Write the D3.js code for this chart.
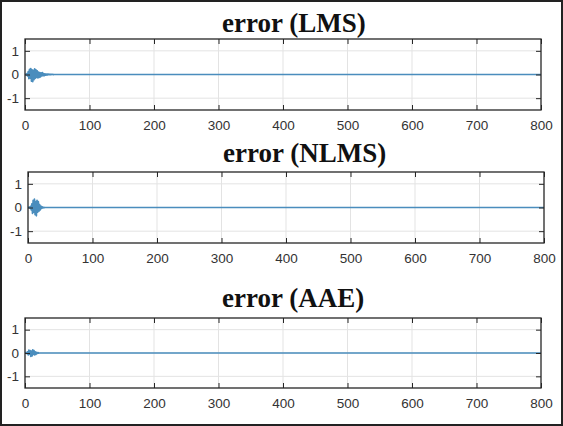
<!DOCTYPE html>
<html lang="en">
<head>
  <meta charset="UTF-8">
  <title>error plots</title>
  <style>
    body { margin: 0; background: #fff; }
    .tick text { font-family: "Liberation Sans", Arial, sans-serif; font-size: 13.5px; fill: #333; }
    .tick line { stroke: #262626; stroke-width: 1; }
    .domain { display: none; }
  </style>
</head>
<body>
  <svg id="svg" width="563" height="426"></svg>

  <script src="https://cdn.jsdelivr.net/npm/d3@7"></script>
  <script>
    // data
    const titles = ['error (LMS)', 'error (NLMS)', 'error (AAE)'];
    const xTicks = [0, 100, 200, 300, 400, 500, 600, 700, 800];
    const yTicks = [-1, 0, 1];
    const nSamples = 800;

    const lmsErr = [0, 0.01, -0.02, 0.04, -0.06, 0.12, -0.18, 0.22, -0.15, 0.25,
      -0.28, 0.2, -0.3, 0.18, -0.22, 0.24, -0.16, 0.2, -0.12, 0.15,
      -0.14, 0.1, -0.12, 0.08, -0.1, 0.07, -0.06, 0.08, -0.05, 0.04,
      -0.05, 0.03, -0.03, 0.02, -0.03, 0.02, -0.01, 0.02, -0.01, 0.01,
      -0.01, 0.01, 0, 0.005, -0.005, 0];
    const nlmsErr = [0, 0, 0.02, -0.03, 0.05, -0.1, 0.15, -0.25, 0.3, -0.2,
      0.35, -0.3, 0.25, -0.35, 0.3, -0.2, 0.25, -0.15, 0.12, -0.1,
      0.06, -0.04, 0.03, -0.02, 0.01, -0.01, 0];
    const aaeErr = [0, 0, 0.02, -0.03, 0.05, -0.08, 0.12, -0.05, 0.1, -0.15,
      0.08, -0.12, 0.14, -0.06, 0.1, -0.08, 0.05, -0.06, 0.03, -0.02,
      0.02, -0.01, 0];
    const series = [lmsErr, nlmsErr, aaeErr];

    // layout of the three axes
    const panels = [
      { left: 25, right: 541, top: 39, bottom: 110, titleX: 222, titleY: 32 },
      { left: 28, right: 544, top: 172, bottom: 243, titleX: 223, titleY: 162 },
      { left: 25, right: 541, top: 318, bottom: 388, titleX: 222, titleY: 307 }
    ];

    const svg = d3.select('#svg');

    svg.append('rect')
      .attr('x', 1).attr('y', 1)
      .attr('width', 561).attr('height', 424)
      .attr('fill', '#fff')
      .attr('stroke', '#222')
      .attr('stroke-width', 2);

    panels.forEach((p, k) => {
      const x = d3.scaleLinear().domain([0, nSamples]).range([p.left, p.right]);
      const y = d3.scaleLinear().domain([-1.5, 1.5]).range([p.bottom, p.top]);
      const g = svg.append('g');

      // grid
      g.selectAll('.gx').data(xTicks.slice(1, -1)).enter().append('line')
        .attr('x1', d => x(d)).attr('x2', d => x(d))
        .attr('y1', p.top).attr('y2', p.bottom)
        .attr('stroke', '#e3e3e3').attr('stroke-width', 1);
      g.selectAll('.gy').data(yTicks).enter().append('line')
        .attr('x1', p.left).attr('x2', p.right)
        .attr('y1', d => y(d)).attr('y2', d => y(d))
        .attr('stroke', '#e3e3e3').attr('stroke-width', 1);

      // signal
      const pts = series[k].map((v, i) => [i, v]).concat([[nSamples, 0]]);
      g.append('path')
        .datum(pts)
        .attr('fill', 'none')
        .attr('stroke', '#4a8dbd')
        .attr('stroke-width', 1.7)
        .attr('stroke-linejoin', 'round')
        .attr('d', d3.line().x(d => x(d[0])).y(d => y(d[1])));

      // axes, ticks inward
      g.append('g').attr('transform', `translate(0,${p.bottom})`)
        .call(d3.axisBottom(x).tickValues(xTicks).tickSize(-5).tickPadding(10));
      g.append('g').attr('transform', `translate(0,${p.top})`)
        .call(d3.axisTop(x).tickValues(xTicks).tickSize(-5).tickFormat(''));
      g.append('g').attr('transform', `translate(${p.left},0)`)
        .call(d3.axisLeft(y).tickValues(yTicks).tickSize(-5).tickPadding(6)
          .tickFormat(d => String(d)));
      g.append('g').attr('transform', `translate(${p.right},0)`)
        .call(d3.axisRight(y).tickValues(yTicks).tickSize(-5).tickFormat(''));

      g.append('rect')
        .attr('x', p.left).attr('y', p.top)
        .attr('width', p.right - p.left).attr('height', p.bottom - p.top)
        .attr('fill', 'none')
        .attr('stroke', '#262626')
        .attr('stroke-width', 1.3);

      g.append('text')
        .attr('x', p.titleX).attr('y', p.titleY)
        .attr('font-family', '"Liberation Serif", "Times New Roman", serif')
        .attr('font-weight', 'bold')
        .attr('font-size', 27)
        .attr('fill', '#111')
        .text(titles[k]);
    });
  </script>
</body>
</html>
